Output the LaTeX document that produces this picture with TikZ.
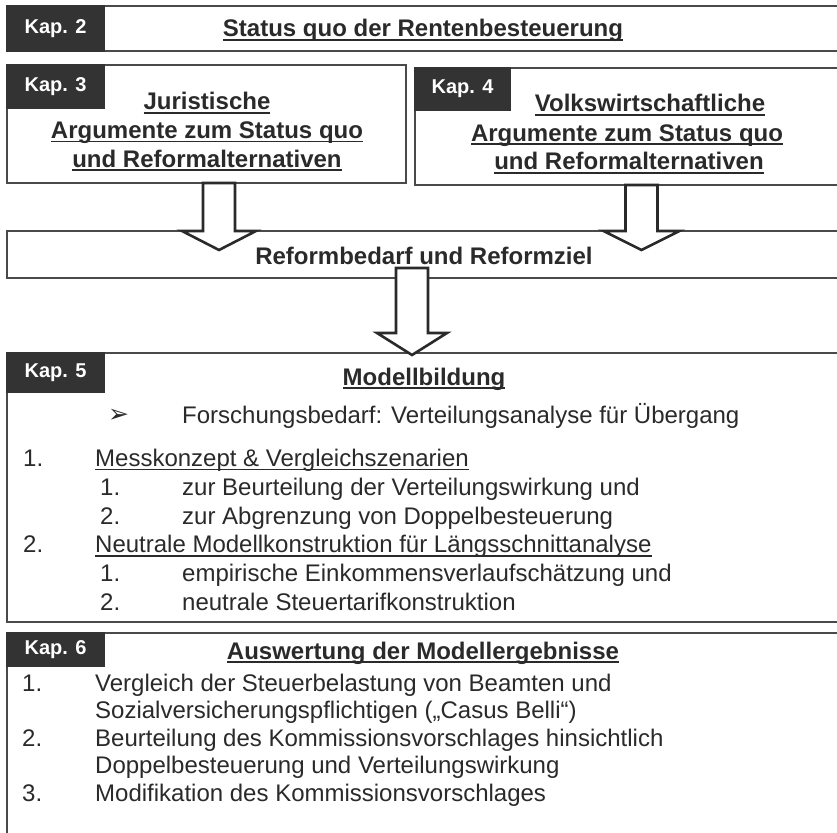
\documentclass[tikz,border=0pt]{standalone}
\usepackage{fontspec}
\setmainfont{Liberation Sans}
\newfontfamily\symfont{DejaVu Sans}
\usetikzlibrary{calc}
\definecolor{ink}{HTML}{2A2A2A}
\definecolor{frame}{HTML}{4A4A4A}
\definecolor{tag}{HTML}{333333}
\newsavebox\ulbox
\newcommand\ulb[1]{\sbox\ulbox{#1}\rlap{\rule[-4pt]{\wd\ulbox}{1.8pt}}\usebox\ulbox}
\newcommand\ulr[1]{\sbox\ulbox{#1}\rlap{\rule[-4pt]{\wd\ulbox}{1.3pt}}\usebox\ulbox}
\newcommand\blockarrow[4]{%
  \draw[blockarr] let \p1=(#1), \p2=(#2) in
    (\x1-16pt,\y1) -- (\x1+16pt,\y1) -- (\x1+16pt,\y2+#3) -- (\x1+#4,\y2+#3)
    -- (\x1,\y2) -- (\x1-#4,\y2+#3) -- (\x1-16pt,\y2+#3) -- cycle;}
\begin{document}
\begin{tikzpicture}[x=1pt,y=-1pt,
  box/.style={draw=frame, line width=1.6pt, inner sep=0pt, outer sep=0pt, anchor=north west},
  tagbox/.style={fill=tag, draw=tag, line width=1.6pt, inner sep=0pt, outer sep=0pt,
    anchor=north west, text=white, font=\fontsize{20}{24}\selectfont\bfseries},
  title/.style={text=ink, font=\fontsize{24}{28}\selectfont\bfseries, inner sep=0pt, anchor=base},
  body/.style={text=ink, font=\fontsize{24}{28}\selectfont, inner sep=0pt, anchor=base west},
  blockarr/.style={draw=ink, fill=white, line width=2.6pt, line join=miter}]
\useasboundingbox (0,0) rectangle (837,832);
\clip (0,0) rectangle (837,832);
\fill[white] (0,0) rectangle (837,832);

% boxes
\node[box, minimum width=838pt, minimum height=45pt] (kap2box) at (7,6) {};
\node[box, minimum width=399pt, minimum height=118pt] (kap3box) at (7,65) {};
\node[box, minimum width=430pt, minimum height=117pt] (kap4box) at (415,68) {};
\node[box, minimum width=838pt, minimum height=47pt] (reformbox) at (7,231) {};
\node[box, minimum width=838pt, minimum height=269pt] (kap5box) at (7,353) {};
\node[box, minimum width=838pt, minimum height=220pt] (kap6box) at (7,633) {};

% tags
\node[tagbox, minimum width=97pt, minimum height=45pt] (tag2) at (7,6) {Kap. 2};
\node[tagbox, minimum width=97pt, minimum height=43pt] (tag3) at (7,65) {Kap. 3};
\node[tagbox, minimum width=95pt, minimum height=42pt] (tag4) at (415,68) {Kap. 4};
\node[tagbox, minimum width=97pt, minimum height=39pt] (tag5) at (7,353) {Kap. 5};
\node[tagbox, minimum width=97pt, minimum height=33pt] (tag6) at (7,633) {Kap. 6};

% arrows
\coordinate (a1s) at ([xshift=12.5pt]kap3box.south);
\coordinate (a1t) at ([yshift=-19pt]a1s |- reformbox.north);
\coordinate (a2s) at ([xshift=11.5pt]kap4box.south);
\coordinate (a2t) at ([yshift=-19pt]a2s |- reformbox.north);
\coordinate (a3s) at ([xshift=-14pt,yshift=10pt]reformbox.south);
\coordinate (a3t) at ([yshift=-2pt]a3s |- kap5box.north);
\blockarrow{a1s}{a1t}{19pt}{37pt}
\blockarrow{a2s}{a2t}{19pt}{38pt}
\blockarrow{a3s}{a3t}{22pt}{35pt}

% titles
\node[title] (t2) at (423,37) {\ulb{Status quo der Rentenbesteuerung}};
\node[title] (t3a) at (207,110) {\ulb{Juristische}};
\node[title] (t3b) at (207,138.5) {\ulb{Argumente zum Status quo}};
\node[title] (t3c) at (207,167) {\ulb{und Reformalternativen}};
\node[title] (t4a) at (650,112) {\ulb{Volkswirtschaftliche}};
\node[title] (t4b) at (627,141) {\ulb{Argumente zum Status quo}};
\node[title] (t4c) at (629,169.5) {\ulb{und Reformalternativen}};
\node[title] (tr) at (424,264) {Reformbedarf und Reformziel};
\node[title] (t5) at (424,385) {\ulb{Modellbildung}};
\node[title] (t6) at (423,659) {\ulb{Auswertung der Modellergebnisse}};

% Kap 5 body
\node[body, text=ink, font=\symfont\fontsize{25}{28}\selectfont] (bul) at (108,422) {➢};
\node[body] (f1) at (182,423) {Forschungsbedarf: Verteilungsanalyse für Übergang};
\node[body] (n1) at (23,466) {1.};
\node[body] (l1) at (95,466) {\ulr{Messkonzept \& Vergleichszenarien}};
\node[body] (n11) at (100,495) {1.};
\node[body] (l11) at (182,495) {zur Beurteilung der Verteilungswirkung und};
\node[body] (n12) at (100,524) {2.};
\node[body] (l12) at (182,524) {zur Abgrenzung von Doppelbesteuerung};
\node[body] (n2) at (23,552.5) {2.};
\node[body] (l2) at (95,552.5) {\ulr{Neutrale Modellkonstruktion für Längsschnittanalyse}};
\node[body] (n21) at (100,581) {1.};
\node[body] (l21) at (182,581) {empirische Einkommensverlaufschätzung und};
\node[body] (n22) at (100,610) {2.};
\node[body] (l22) at (182,610) {neutrale Steuertarifkonstruktion};

% Kap 6 body
\node[body] (m1) at (22,691) {1.};
\node[body] (k1a) at (95,691) {Vergleich der Steuerbelastung von Beamten und};
\node[body] (k1b) at (95,718.5) {Sozialversicherungspflichtigen („Casus Belli“)};
\node[body] (m2) at (22,746) {2.};
\node[body] (k2a) at (95,746) {Beurteilung des Kommissionsvorschlages hinsichtlich};
\node[body] (k2b) at (95,773.5) {Doppelbesteuerung und Verteilungswirkung};
\node[body] (m3) at (22,801) {3.};
\node[body] (k3) at (95,801) {Modifikation des Kommissionsvorschlages};
\end{tikzpicture}
\end{document}
